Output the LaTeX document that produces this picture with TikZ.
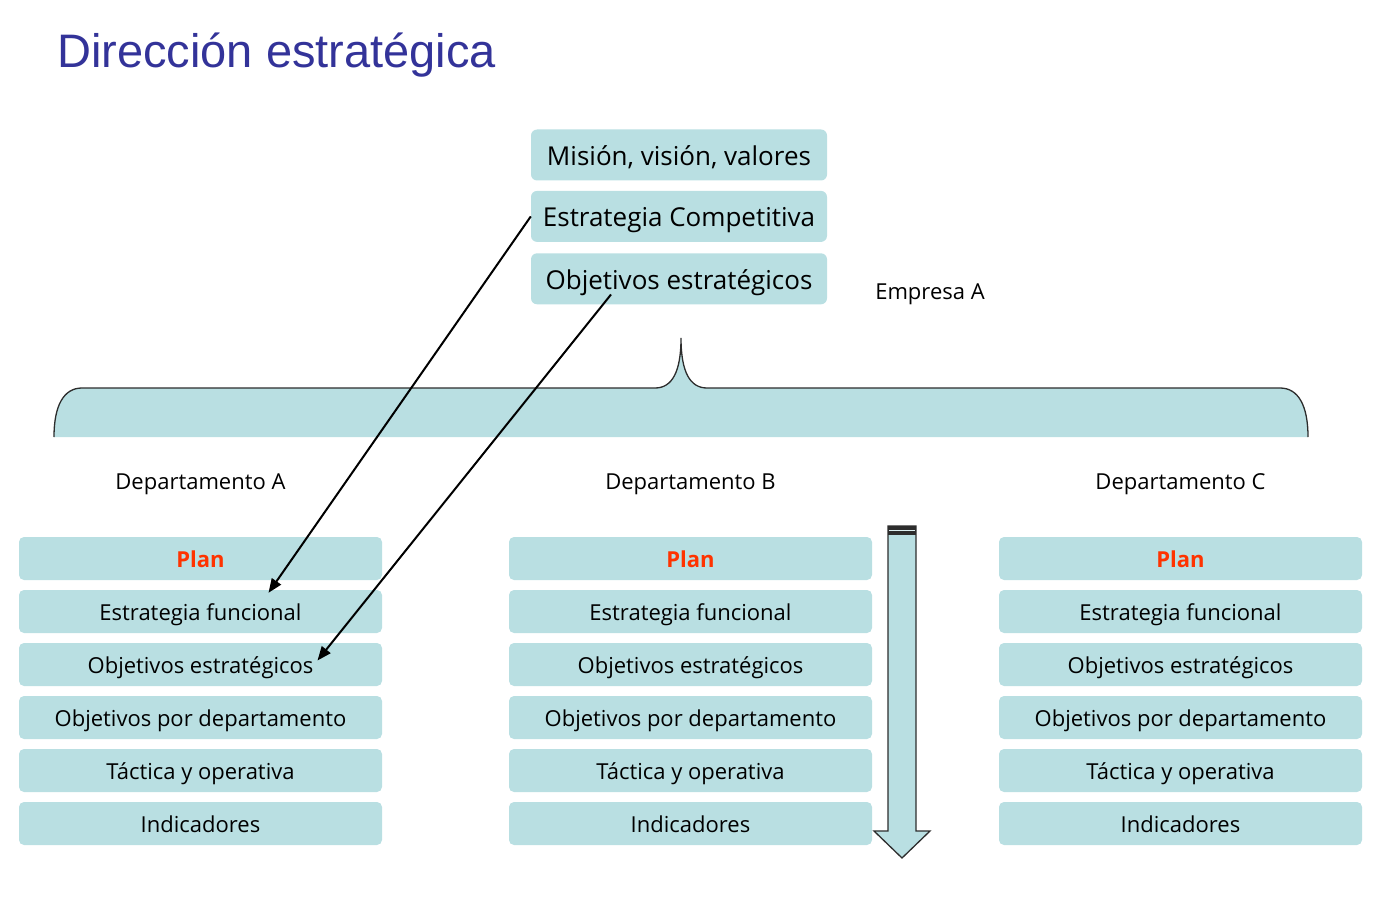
\documentclass[tikz,border=0pt]{standalone}
\usepackage{fontspec}
\setmainfont{Open Sans}
\newfontfamily\titlefont{Liberation Sans}
\usetikzlibrary{arrows.meta,calc,positioning}
\definecolor{cajaazul}{RGB}{185,223,226}
\definecolor{titulo}{RGB}{51,51,153}
\definecolor{rojoplan}{RGB}{255,51,0}
\definecolor{borde}{RGB}{45,45,45}

\begin{document}
\begin{tikzpicture}[x=1pt,y=-1pt,
  caja/.style={fill=cajaazul,rounded corners=5pt,minimum width=363pt,minimum height=43pt,inner sep=0pt,text height=20pt,text depth=3pt,font=\fontsize{22}{26}\selectfont},
  cajasup/.style={fill=cajaazul,rounded corners=6pt,minimum width=296pt,minimum height=51pt,inner sep=0pt,text height=24pt,text depth=3pt,font=\fontsize{26}{31}\selectfont},
  etiq/.style={font=\fontsize{22}{26}\selectfont},
  flecha/.style={-{Triangle[length=14pt,width=11pt]},line width=2pt}]
\useasboundingbox (0,0) rectangle (1388,904);
\node[anchor=base west,inner sep=0pt,text=titulo,font=\titlefont\fontsize{47}{56}\selectfont] (titulo) at (57,68) {Dirección estratégica};
% empresa
\node[cajasup] (mision) at (679,155) {Misión, visión, valores};
\node[cajasup,below=10pt of mision] (comp) {Estrategia Competitiva};
\node[cajasup,below=11pt of comp] (obj) {Objetivos estratégicos};
\node[etiq] (empresa) at (930,294) {Empresa A};
% llave
\filldraw[fill=cajaazul,draw=borde,line width=1.3pt] (54,437) .. controls (54,405) and (64,388) .. (82,388) -- (655,388)
  .. controls (672,388) and (681,372) .. (681,338) .. controls (681,372) and (690,388) .. (707,388) -- (1280,388)
  .. controls (1298,388) and (1308,405) .. (1308,437);
% departamentos
\foreach \dep/\cx in {A/200.5,B/690.5,C/1180.5}{
  \node[etiq] (dep\dep) at (\cx,484) {Departamento \dep};
  \node[caja,text=rojoplan,font=\bfseries\fontsize{22}{26}\selectfont] (plan\dep) at (\cx,558.5) {Plan};
  \foreach \fila/\txt [count=\i] in {ef/Estrategia funcional,oe/Objetivos estratégicos,od/Objetivos por departamento,ta/Táctica y operativa,ind/Indicadores}{
    \node[caja] (\fila\dep) at (\cx,{558.5+53*\i}) {\txt};
  }
}
% flecha grande
\filldraw[fill=cajaazul,draw=borde,line width=1.3pt] (888,526) -- (916,526) -- (916,831) -- (930,831) -- (902,858) -- (874,831) -- (888,831) -- cycle;
\fill[borde] (888,526) rectangle (916,535);
\draw[cajaazul!50!white,line width=1pt] (889,530.5) -- (915,530.5);
% flechas
\draw[flecha] (comp.west) -- ($(efA.north)+(68,3)$);
\draw[flecha] ($(obj.south)+(-68,-10)$) -- ($(oeA.center)+(117,-4)$);
\end{tikzpicture}
\end{document}
